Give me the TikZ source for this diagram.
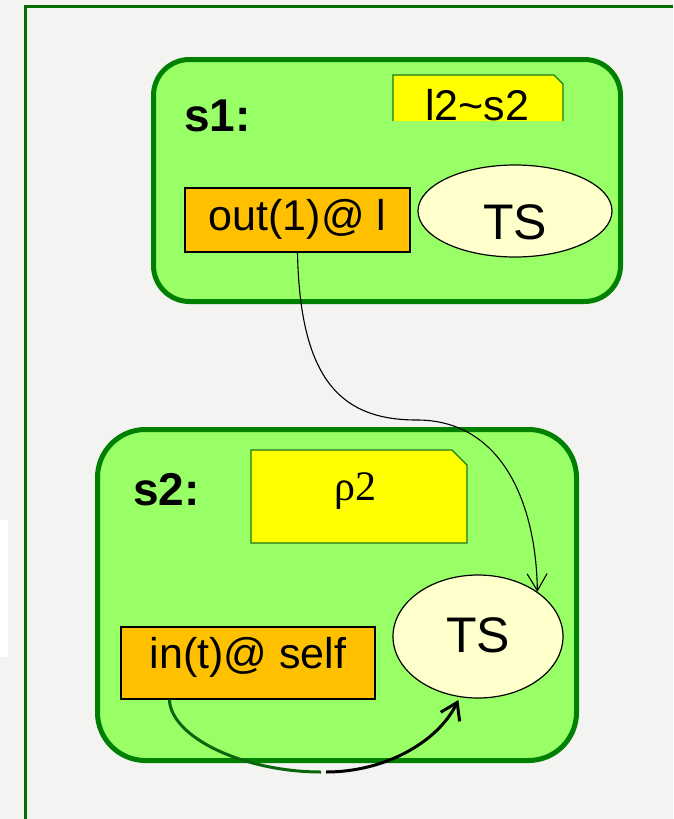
\documentclass[tikz,border=0pt]{standalone}
\usepackage{fontspec}
\setmainfont{Liberation Sans}
\newfontfamily\greekserif{Liberation Serif}
\usetikzlibrary{arrows.meta,shapes.geometric}

\definecolor{pagebg}{HTML}{F3F3F1}
\definecolor{framegreen}{HTML}{006E00}
\definecolor{zonegreen}{HTML}{008000}
\definecolor{zonefill}{HTML}{99FF66}
\definecolor{opfill}{HTML}{FFC000}
\definecolor{tsfill}{HTML}{FFFFCC}
\definecolor{notefill}{HTML}{FFFF00}
\definecolor{notedraw}{HTML}{1A7A1A}
\definecolor{linkgreen}{HTML}{0A660A}

\begin{document}
\begin{tikzpicture}[x=1pt,y=-1pt,
  zone/.style={draw=zonegreen, line width=5pt, fill=zonefill,
    rounded corners=#1, inner sep=0pt},
  zonelabel/.style={anchor=base west, inner sep=0pt,
    font=\bfseries\fontsize{46}{50}\selectfont},
  opbox/.style={draw=black, line width=1.2pt, fill=opfill, inner sep=0pt,
    font=\fontsize{43}{48}\selectfont},
  tsnode/.style={ellipse, draw=black, line width=1.2pt, fill=tsfill,
    inner sep=0pt, font=\fontsize{50}{54}\selectfont},
  notebox/.style={fill=notefill, draw=notedraw, line width=1.3pt},
  notetext/.style={anchor=base, inner sep=0pt},
  flow/.style={line width=1.1pt, -{Straight Barb[length=17pt,width=20pt]}},
  selfflow/.style={line width=3pt},
]
\useasboundingbox (0,0) rectangle (673,819);
\fill[pagebg] (0,0) rectangle (673,819);
\fill[white] (0,520) rectangle (8,657);

% outer frame, open towards the right and bottom
\draw[framegreen, line width=3pt] (25,819) -- (25,6) -- (673,6);

% site s1
\node[zone=36pt, minimum width=467pt, minimum height=242pt] (s1) at (387,180.5) {};
\node[zonelabel] (s1lbl) at (184,131.5) {s1:};
\path[notebox] (393,121) -- (393,75) -- (554,75) -- (563,84) -- (563,121);
\node[notetext, font=\fontsize{43}{48}\selectfont] (s1note) at (477,120) {l2\textasciitilde s2};
\node[opbox, minimum width=225pt, minimum height=64pt,
      text height=29pt, text depth=9pt] (out1) at (297.5,220) {out(1)@ l};
\node[tsnode, minimum width=194pt, minimum height=92pt,
      text height=56pt, text depth=0pt] (ts1) at (515,211) {TS};

% site s2
\node[zone=48pt, minimum width=479pt, minimum height=331pt] (s2) at (337,595) {};
\node[zonelabel] (s2lbl) at (133,505) {s2:};
\path[notebox] (251,450) -- (452,450) -- (467,465) -- (467,543) -- (251,543) -- cycle;
\node[notetext, font=\greekserif\fontsize{42}{46}\selectfont] (s2note) at (355.5,500) {ρ2};
\node[opbox, minimum width=254pt, minimum height=72pt,
      text height=19pt, text depth=9pt] (in1) at (248,663) {in(t)@ self};
\node[tsnode, minimum width=170pt, minimum height=123pt,
      text height=31pt, text depth=0pt] (ts2) at (478,636.5) {TS};

% remote output from s1 into the tuple space of s2
\draw[flow] (out1.south) .. controls (300,385) and (345,420) .. (417,420)
  .. controls (500,420) and (536,500) .. (ts2.37);

% local input from the tuple space of s2
\coordinate (gapL) at (321,772);
\coordinate (gapR) at (326,772);
\draw[selfflow, linkgreen] ([xshift=49pt]in1.south west)
  .. controls (171,738) and (245,772) .. (gapL);
\draw[selfflow, black, -{Straight Barb[length=16pt,width=21pt]}] (gapR)
  .. controls (385,772) and (438,742) .. ([yshift=-3pt]ts2.252);
\end{tikzpicture}
\end{document}
